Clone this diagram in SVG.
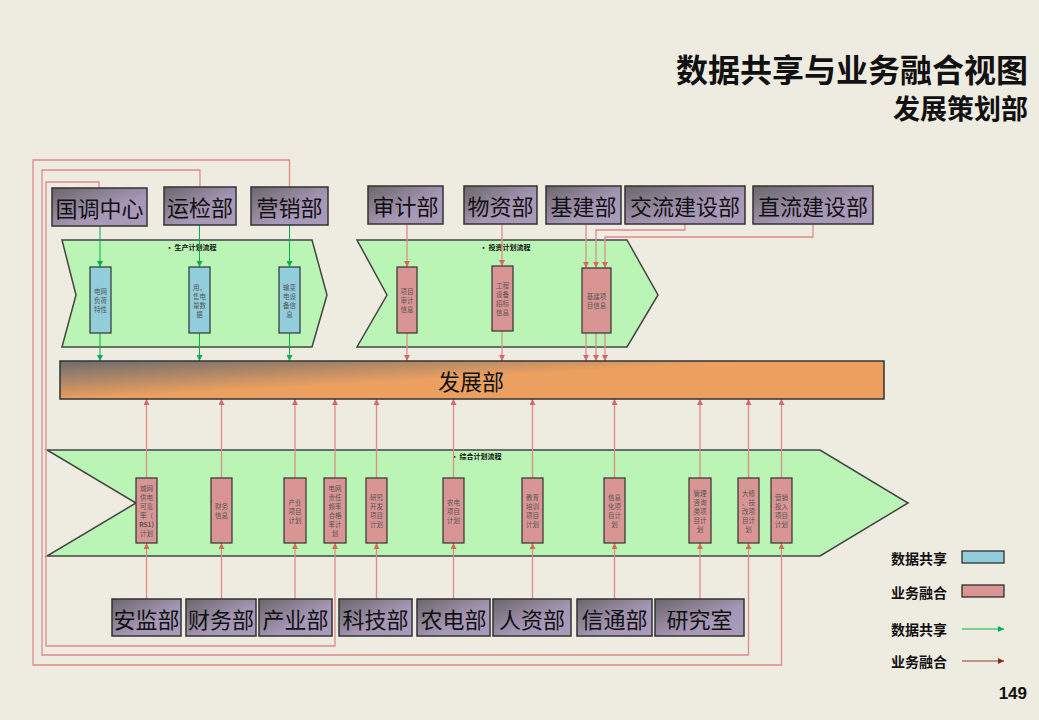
<svg xmlns="http://www.w3.org/2000/svg" width="1039" height="720" viewBox="0 0 1039 720">
<defs>
<style>
.dept rect{stroke:#333;stroke-width:1.5;fill:url(#gDept)}
.dept text{font-family:"Noto Sans CJK SC","Liberation Sans",sans-serif;font-size:22px;fill:#111;text-anchor:middle;dominant-baseline:central}
.chev{fill:#BBF5B5;stroke:#444;stroke-width:1.5}
.ctitle{font-family:"Noto Sans CJK SC",sans-serif;font-size:7px;font-weight:bold;fill:#111}
.bx{stroke:#333;stroke-width:1.2}
.blue{fill:#92CDDC}
.pink{fill:#D99594}
.st{font-family:"Noto Sans CJK SC","Liberation Sans",sans-serif;font-size:6.5px;fill:#555;text-anchor:middle;dominant-baseline:central}
.g{stroke:#00B050;stroke-width:1;fill:none}
.p{stroke:#E08A8A;stroke-width:1.3;fill:none}
.leg{font-family:"Noto Sans CJK SC",sans-serif;font-size:14px;font-weight:bold;fill:#111;dominant-baseline:central}
</style>
<linearGradient id="gDept" x1="0" y1="0" x2="1" y2="1">
<stop offset="0" stop-color="#6A666A"/>
<stop offset="0.6" stop-color="#A797B6"/>
<stop offset="1" stop-color="#AB9BBA"/>
</linearGradient>
<linearGradient id="gDev" gradientUnits="userSpaceOnUse" x1="60" y1="361" x2="62.2" y2="400">
<stop offset="0" stop-color="#6C6C6E"/>
<stop offset="1" stop-color="#EBA060"/>
</linearGradient>
<marker id="ag" viewBox="0 0 6 6" refX="6" refY="3" markerWidth="6" markerHeight="6" orient="auto" markerUnits="userSpaceOnUse"><path d="M0,0 L6,3 L0,6 z" fill="#00B050"/></marker>
<marker id="ap" viewBox="0 0 6 6" refX="6" refY="3" markerWidth="6" markerHeight="6" orient="auto" markerUnits="userSpaceOnUse"><path d="M0,0 L6,3 L0,6 z" fill="#D86868"/></marker>
<marker id="ab" viewBox="0 0 6 6" refX="6" refY="3" markerWidth="6" markerHeight="6" orient="auto" markerUnits="userSpaceOnUse"><path d="M0,0 L6,3 L0,6 z" fill="#8B2A1A"/></marker>
</defs>
<rect x="0" y="0" width="1039" height="720" fill="#EEEBE0"/>

<g id="title">
<text x="1028" y="82" text-anchor="end" font-family="Noto Sans CJK SC,sans-serif" font-size="32" font-weight="bold" fill="#111">数据共享与业务融合视图</text>
<text x="1028" y="119" text-anchor="end" font-family="Noto Sans CJK SC,sans-serif" font-size="27" font-weight="bold" fill="#111">发展策划部</text>
</g>

<g id="flow-production">
<path class="chev" d="M62,240 L312,240 L327,295 L312,347 L62,347 L76,295 Z"/>
<text class="ctitle" x="166" y="250">•  生产计划流程</text>
</g>
<g id="flow-investment">
<path class="chev" d="M357,240 L627,240 L658,295 L627,347 L357,347 L387,295 Z"/>
<text class="ctitle" x="480" y="250">•  投资计划流程</text>
</g>
<g id="flow-comprehensive">
<path class="chev" d="M47,450 L820,450 L908,503 L820,556 L47,556 L136,503 Z"/>
<text class="ctitle" x="451" y="459">•  综合计划流程</text>
</g>

<g id="connectors">
<path class="g" d="M100,226 V267" marker-end="url(#ag)"/>
<path class="g" d="M100,333 V361" marker-end="url(#ag)"/>
<path class="g" d="M199.5,225 V267" marker-end="url(#ag)"/>
<path class="g" d="M199.5,333 V361" marker-end="url(#ag)"/>
<path class="g" d="M289.5,225 V267" marker-end="url(#ag)"/>
<path class="g" d="M289.5,333 V361" marker-end="url(#ag)"/>
<path class="p" d="M407,224 V267" marker-end="url(#ap)"/>
<path class="p" d="M407,333 V361" marker-end="url(#ap)"/>
<path class="p" d="M502,224 V266" marker-end="url(#ap)"/>
<path class="p" d="M502,331 V361" marker-end="url(#ap)"/>
<path class="p" d="M586,224 V268" marker-end="url(#ap)"/>
<path class="p" d="M586,333 V361" marker-end="url(#ap)"/>
<path class="p" d="M685,224 V230 H596 V268" marker-end="url(#ap)"/>
<path class="p" d="M596,333 V361" marker-end="url(#ap)"/>
<path class="p" d="M813,224 V237 H605 V268" marker-end="url(#ap)"/>
<path class="p" d="M605,333 V361" marker-end="url(#ap)"/>
<path class="p" d="M146.5,478 V399" marker-end="url(#ap)"/>
<path class="p" d="M221.5,478 V399" marker-end="url(#ap)"/>
<path class="p" d="M295,478 V399" marker-end="url(#ap)"/>
<path class="p" d="M335,478 V399" marker-end="url(#ap)"/>
<path class="p" d="M376.5,478 V399" marker-end="url(#ap)"/>
<path class="p" d="M453.5,478 V399" marker-end="url(#ap)"/>
<path class="p" d="M532.5,478 V399" marker-end="url(#ap)"/>
<path class="p" d="M614.5,478 V399" marker-end="url(#ap)"/>
<path class="p" d="M700,478 V399" marker-end="url(#ap)"/>
<path class="p" d="M748.5,478 V399" marker-end="url(#ap)"/>
<path class="p" d="M781.5,478 V399" marker-end="url(#ap)"/>
<path class="p" d="M146.5,599 V543" marker-end="url(#ap)"/>
<path class="p" d="M221.5,599 V543" marker-end="url(#ap)"/>
<path class="p" d="M295,599 V543" marker-end="url(#ap)"/>
<path class="p" d="M376.5,599 V543" marker-end="url(#ap)"/>
<path class="p" d="M453.5,599 V543" marker-end="url(#ap)"/>
<path class="p" d="M532.5,599 V543" marker-end="url(#ap)"/>
<path class="p" d="M614.5,599 V543" marker-end="url(#ap)"/>
<path class="p" d="M700,599 V543" marker-end="url(#ap)"/>
<path class="p" d="M99,188 V182 H46 V646 H335 V543" marker-end="url(#ap)"/>
<path class="p" d="M200,187 V170 H42 V655 H748.5 V543" marker-end="url(#ap)"/>
<path class="p" d="M289.5,187 V160 H33 V665 H781.5 V543" marker-end="url(#ap)"/>
</g>

<g id="dev">
<rect x="60" y="361" width="824" height="38" fill="url(#gDev)" stroke="#333" stroke-width="1.5"/>
<text x="471" y="380" text-anchor="middle" dominant-baseline="central" font-family="Noto Sans CJK SC,sans-serif" font-size="22" fill="#111">发展部</text>
</g>

<g id="dept-guodiao" class="dept"><rect x="52" y="188" width="95" height="38"/><text x="99.5" y="207">国调中心</text></g>
<g id="dept-yunjian" class="dept"><rect x="164" y="187" width="72" height="38"/><text x="200" y="206">运检部</text></g>
<g id="dept-yingxiao" class="dept"><rect x="251" y="187" width="77" height="38"/><text x="289.5" y="206">营销部</text></g>
<g id="dept-shenji" class="dept"><rect x="368" y="186" width="75" height="38"/><text x="405.5" y="205">审计部</text></g>
<g id="dept-wuzi" class="dept"><rect x="464" y="186" width="73" height="38"/><text x="500.5" y="205">物资部</text></g>
<g id="dept-jijian" class="dept"><rect x="546" y="186" width="75" height="38"/><text x="583.5" y="205">基建部</text></g>
<g id="dept-jiaoliu" class="dept"><rect x="625" y="186" width="120" height="38"/><text x="685" y="205">交流建设部</text></g>
<g id="dept-zhiliu" class="dept"><rect x="753" y="186" width="120" height="38"/><text x="813" y="205">直流建设部</text></g>

<g id="dept-anjian" class="dept"><rect x="112" y="599" width="69" height="37"/><text x="146.5" y="617.5">安监部</text></g>
<g id="dept-caiwu" class="dept"><rect x="186" y="599" width="70" height="37"/><text x="221" y="617.5">财务部</text></g>
<g id="dept-chanye" class="dept"><rect x="259" y="599" width="73" height="37"/><text x="295.5" y="617.5">产业部</text></g>
<g id="dept-keji" class="dept"><rect x="339" y="599" width="73" height="37"/><text x="375.5" y="617.5">科技部</text></g>
<g id="dept-nongdian" class="dept"><rect x="417" y="599" width="73" height="37"/><text x="453.5" y="617.5">农电部</text></g>
<g id="dept-renzi" class="dept"><rect x="493" y="599" width="78" height="37"/><text x="532" y="617.5">人资部</text></g>
<g id="dept-xintong" class="dept"><rect x="577" y="599" width="75" height="37"/><text x="614.5" y="617.5">信通部</text></g>
<g id="dept-yanjiu" class="dept"><rect x="655" y="599" width="89" height="37"/><text x="699.5" y="617.5">研究室</text></g>

<g id="box-t1"><rect class="bx blue" x="90" y="267" width="21" height="66"/><text class="st"><tspan x="100.5" y="291">电网</tspan><tspan x="100.5" y="300">负荷</tspan><tspan x="100.5" y="309">特性</tspan></text></g>
<g id="box-t2"><rect class="bx blue" x="189" y="267" width="21" height="66"/><text class="st"><tspan x="199.5" y="286.5">用，</tspan><tspan x="199.5" y="295.5">售电</tspan><tspan x="199.5" y="304.5">量数</tspan><tspan x="199.5" y="313.5">据</tspan></text></g>
<g id="box-t3"><rect class="bx blue" x="279" y="267" width="21" height="66"/><text class="st"><tspan x="289.5" y="286.5">输变</tspan><tspan x="289.5" y="295.5">电设</tspan><tspan x="289.5" y="304.5">备信</tspan><tspan x="289.5" y="313.5">息</tspan></text></g>
<g id="box-t4"><rect class="bx pink" x="397" y="267" width="20" height="66"/><text class="st"><tspan x="407" y="291">项目</tspan><tspan x="407" y="300">审计</tspan><tspan x="407" y="309">信息</tspan></text></g>
<g id="box-t5"><rect class="bx pink" x="492" y="266" width="21" height="65"/><text class="st"><tspan x="502.5" y="285">工程</tspan><tspan x="502.5" y="294">设备</tspan><tspan x="502.5" y="303">招标</tspan><tspan x="502.5" y="312">信息</tspan></text></g>
<g id="box-t6"><rect class="bx pink" x="582" y="268" width="29" height="65"/><text class="st"><tspan x="596.5" y="296">基建项</tspan><tspan x="596.5" y="305">目信息</tspan></text></g>

<g id="box-b1"><rect class="bx pink" x="136" y="478" width="21" height="65"/><text class="st"><tspan x="146.5" y="488">城网</tspan><tspan x="146.5" y="497">供电</tspan><tspan x="146.5" y="506">可靠</tspan><tspan x="146.5" y="515">率（</tspan><tspan x="146.5" y="524" font-weight="bold">RS1)</tspan><tspan x="146.5" y="533">计划</tspan></text></g>
<g id="box-b2"><rect class="bx pink" x="211" y="478" width="21" height="65"/><text class="st"><tspan x="221.5" y="506">财务</tspan><tspan x="221.5" y="515">信息</tspan></text></g>
<g id="box-b3"><rect class="bx pink" x="284" y="478" width="22" height="65"/><text class="st"><tspan x="295" y="501.5">产业</tspan><tspan x="295" y="510.5">项目</tspan><tspan x="295" y="519.5">计划</tspan></text></g>
<g id="box-b4"><rect class="bx pink" x="324" y="478" width="22" height="65"/><text class="st"><tspan x="335" y="488">电网</tspan><tspan x="335" y="497">责任</tspan><tspan x="335" y="506">频率</tspan><tspan x="335" y="515">合格</tspan><tspan x="335" y="524">率计</tspan><tspan x="335" y="533">划</tspan></text></g>
<g id="box-b5"><rect class="bx pink" x="366" y="478" width="21" height="65"/><text class="st"><tspan x="376.5" y="497">研究</tspan><tspan x="376.5" y="506">开发</tspan><tspan x="376.5" y="515">项目</tspan><tspan x="376.5" y="524">计划</tspan></text></g>
<g id="box-b6"><rect class="bx pink" x="443" y="478" width="21" height="65"/><text class="st"><tspan x="453.5" y="501.5">农电</tspan><tspan x="453.5" y="510.5">项目</tspan><tspan x="453.5" y="519.5">计划</tspan></text></g>
<g id="box-b7"><rect class="bx pink" x="522" y="478" width="21" height="65"/><text class="st"><tspan x="532.5" y="497">教育</tspan><tspan x="532.5" y="506">培训</tspan><tspan x="532.5" y="515">项目</tspan><tspan x="532.5" y="524">计划</tspan></text></g>
<g id="box-b8"><rect class="bx pink" x="604" y="478" width="21" height="65"/><text class="st"><tspan x="614.5" y="497">信息</tspan><tspan x="614.5" y="506">化项</tspan><tspan x="614.5" y="515">目计</tspan><tspan x="614.5" y="524">划</tspan></text></g>
<g id="box-b9"><rect class="bx pink" x="689" y="478" width="22" height="65"/><text class="st"><tspan x="700" y="492.5">管理</tspan><tspan x="700" y="501.5">咨询</tspan><tspan x="700" y="510.5">类项</tspan><tspan x="700" y="519.5">目计</tspan><tspan x="700" y="528.5">划</tspan></text></g>
<g id="box-b10"><rect class="bx pink" x="738" y="478" width="21" height="65"/><text class="st"><tspan x="748.5" y="492.5">大修</tspan><tspan x="748.5" y="501.5">、技</tspan><tspan x="748.5" y="510.5">改项</tspan><tspan x="748.5" y="519.5">目计</tspan><tspan x="748.5" y="528.5">划</tspan></text></g>
<g id="box-b11"><rect class="bx pink" x="771" y="478" width="21" height="65"/><text class="st"><tspan x="781.5" y="497">营销</tspan><tspan x="781.5" y="506">投入</tspan><tspan x="781.5" y="515">项目</tspan><tspan x="781.5" y="524">计划</tspan></text></g>

<g id="legend">
<text class="leg" x="891" y="558">数据共享</text>
<rect x="962" y="551" width="42" height="12" fill="#92CDDC" stroke="#222" stroke-width="1.2"/>
<text class="leg" x="891" y="592">业务融合</text>
<rect x="962" y="585" width="42" height="12" fill="#D99594" stroke="#222" stroke-width="1.2"/>
<text class="leg" x="891" y="629">数据共享</text>
<path d="M962,629 H1004" stroke="#50C878" stroke-width="1.5" fill="none" marker-end="url(#ag)"/>
<text class="leg" x="891" y="661">业务融合</text>
<path d="M962,661 H1004" stroke="#B07868" stroke-width="1.5" fill="none" marker-end="url(#ab)"/>
</g>

<text x="1027" y="699" text-anchor="end" font-family="Liberation Sans,sans-serif" font-size="17" font-weight="bold" fill="#111">149</text>
</svg>
